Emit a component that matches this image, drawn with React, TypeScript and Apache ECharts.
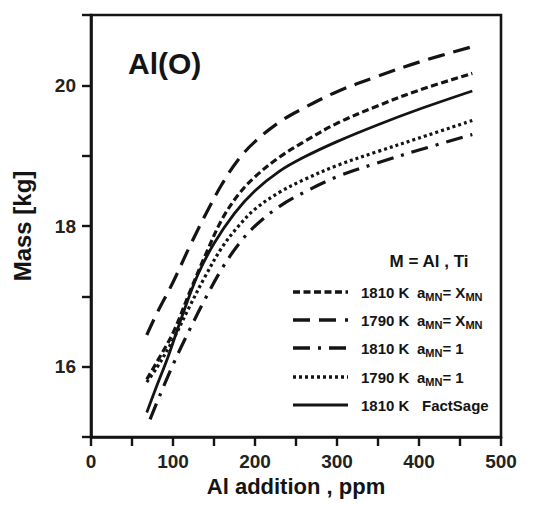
import React, { useEffect, useRef } from 'react';
import * as echarts from 'echarts';

// ---- data ----
const xTickValues = [0, 100, 200, 300, 400, 500];
const yTickValues = [16, 18, 20];

const s1810XmnX = [68, 80, 100, 120, 140, 160, 180, 200, 230, 260, 300, 350, 400, 465];
const s1810XmnY = [15.82, 16.06, 16.48, 17.05, 17.6, 18.1, 18.45, 18.7, 18.98, 19.2, 19.46, 19.71, 19.93, 20.17];

const s1790XmnX = [68, 80, 100, 120, 140, 160, 180, 200, 230, 260, 300, 350, 400, 465];
const s1790XmnY = [16.45, 16.75, 17.2, 17.7, 18.17, 18.6, 18.95, 19.2, 19.48, 19.68, 19.91, 20.13, 20.33, 20.55];

const s1810OneX = [72, 85, 102, 120, 140, 160, 180, 200, 230, 260, 300, 350, 400, 465];
const s1810OneY = [15.25, 15.62, 16.08, 16.52, 16.98, 17.4, 17.74, 18.0, 18.28, 18.48, 18.7, 18.9, 19.08, 19.3];

const s1790OneX = [68, 80, 100, 120, 140, 160, 180, 200, 230, 260, 300, 350, 400, 465];
const s1790OneY = [15.78, 15.98, 16.38, 16.85, 17.3, 17.7, 18.0, 18.24, 18.48, 18.66, 18.86, 19.06, 19.25, 19.5];

const sFactSageX = [68, 80, 94, 112, 130, 150, 175, 200, 230, 260, 300, 350, 400, 465];
const sFactSageY = [15.35, 15.72, 16.14, 16.75, 17.3, 17.75, 18.18, 18.5, 18.78, 18.98, 19.2, 19.44, 19.66, 19.92];

const legendTemps = ['1810 K', '1790 K', '1810 K', '1790 K', '1810 K'];
const legendModels = ['xmn', 'xmn', 'one', 'one', 'factsage'];

const FONT = '"Liberation Sans", Arial, Helvetica, sans-serif';
const INK = '#141414';

const zip = (xs: number[], ys: number[]) => xs.map((x, i) => [x, ys[i]]);

const seriesDefs = [
  { name: '1810 K aMN=XMN', xs: s1810XmnX, ys: s1810XmnY, dash: [7, 3.5] as any, width: 3.2 },
  { name: '1790 K aMN=XMN', xs: s1790XmnX, ys: s1790XmnY, dash: [17, 9] as any, width: 3.2 },
  { name: '1810 K aMN=1', xs: s1810OneX, ys: s1810OneY, dash: [17, 8, 3, 8] as any, width: 3.2 },
  { name: '1790 K aMN=1', xs: s1790OneX, ys: s1790OneY, dash: [3, 3] as any, width: 3.2 },
  { name: '1810 K FactSage', xs: sFactSageX, ys: sFactSageY, dash: 'solid' as any, width: 2.8 },
];

export default function App() {
  const ref = useRef<HTMLDivElement>(null);
  useEffect(() => {
    if (!ref.current) return;
    const chart = echarts.init(ref.current, null, { renderer: 'svg' });

    const legendRowY = [292, 320, 348, 377, 405];
    const legendGraphics: any[] = [];
    legendRowY.forEach((y, i) => {
      const def = seriesDefs[i];
      legendGraphics.push({
        type: 'line',
        shape: { x1: 293, y1: y, x2: 348, y2: y },
        style: {
          stroke: INK,
          lineWidth: def.width + 0.3,
          lineDash: Array.isArray(def.dash) ? def.dash : null,
        },
      });
      legendGraphics.push({
        type: 'text',
        x: 361,
        y,
        style: {
          text: legendTemps[i],
          font: `bold 15px ${FONT}`,
          fill: INK,
          verticalAlign: 'middle',
        },
      });
      const model = legendModels[i];
      const rich = model === 'xmn'
        ? '{a|a}{s|MN}{a|= X}{s|MN}'
        : model === 'one'
          ? '{a|a}{s|MN}{a|= 1}'
          : '{a|FactSage}';
      legendGraphics.push({
        type: 'text',
        x: model === 'factsage' ? 422 : 417,
        y,
        style: {
          text: rich,
          fill: INK,
          verticalAlign: 'middle',
          rich: {
            a: { fontSize: 15, fontWeight: 'bold', fontFamily: FONT, fill: INK },
            s: { fontSize: 11, fontWeight: 'bold', fontFamily: FONT, fill: INK, padding: [10, 0, 0, 0] },
          },
        },
      });
    });

    chart.setOption({
      animation: false,
      backgroundColor: '#ffffff',
      grid: {
        left: 91,
        right: 37,
        top: 15,
        bottom: 69,
        show: true,
        borderColor: INK,
        borderWidth: 2.6,
        backgroundColor: 'transparent',
      },
      xAxis: {
        type: 'value',
        min: 0,
        max: 500,
        interval: 50,
        name: 'Al addition , ppm',
        nameLocation: 'middle',
        nameGap: 38,
        nameTextStyle: { fontFamily: FONT, fontWeight: 'bold', fontSize: 22, color: INK },
        axisLine: { show: true, lineStyle: { color: INK, width: 2.6 } },
        axisTick: { show: true, inside: false, length: 9, lineStyle: { color: INK, width: 2.4 } },
        splitLine: { show: false },
        axisLabel: {
          margin: 15,
          fontFamily: FONT,
          fontWeight: 'bold',
          fontSize: 19,
          color: '#222',
          formatter: (v: number) => (xTickValues.includes(v) ? String(v) : ''),
        },
      },
      yAxis: {
        type: 'value',
        min: 15,
        max: 21,
        interval: 1,
        name: 'Mass [kg]',
        nameLocation: 'middle',
        nameGap: 57,
        nameRotate: 90,
        nameTextStyle: { fontFamily: FONT, fontWeight: 'bold', fontSize: 24, color: INK },
        axisLine: { show: true, lineStyle: { color: INK, width: 2.6 } },
        axisTick: { show: true, inside: false, length: 9, lineStyle: { color: INK, width: 2.4 } },
        splitLine: { show: false },
        axisLabel: {
          margin: 15,
          fontFamily: FONT,
          fontWeight: 'bold',
          fontSize: 19,
          color: '#222',
          formatter: (v: number) => (yTickValues.includes(v) ? String(v) : ''),
        },
      },
      series: seriesDefs.map((d) => ({
        name: d.name,
        type: 'line',
        data: zip(d.xs, d.ys),
        smooth: 0.35,
        showSymbol: false,
        symbol: 'none',
        lineStyle: { color: INK, width: d.width, type: d.dash, cap: 'butt' },
        z: 3,
      })),
      graphic: [
        {
          type: 'text',
          x: 128,
          y: 63,
          style: {
            text: 'Al(O)',
            font: `bold 30px ${FONT}`,
            fill: INK,
            verticalAlign: 'middle',
          },
        },
        {
          type: 'text',
          x: 429,
          y: 261,
          style: {
            text: 'M = Al , Ti',
            font: `bold 17px ${FONT}`,
            fill: INK,
            align: 'center',
            verticalAlign: 'middle',
          },
        },
        ...legendGraphics,
      ],
    });
    return () => chart.dispose();
  }, []);
  return <div ref={ref} style={{ position: 'fixed', left: 0, top: 0, width: 538, height: 506 }} />;
}
